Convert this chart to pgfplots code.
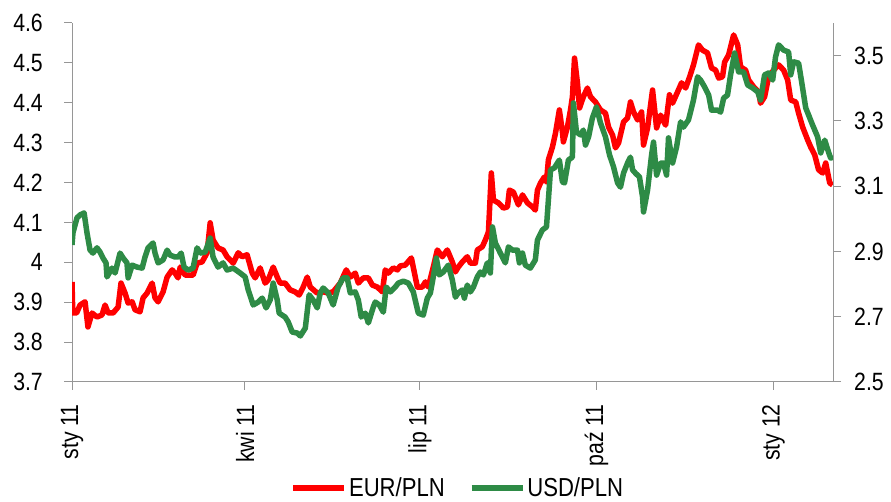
\documentclass[border=0pt]{standalone}
\usepackage{fontspec}
\setmainfont{Liberation Sans}[FakeStretch=0.85]
\usepackage{pgfplots}
\usepackage{pgfplotstable}
\pgfplotsset{compat=1.18}

\definecolor{eurred}{RGB}{255,0,0}
\definecolor{usdgreen}{RGB}{46,139,70}
\definecolor{axgray}{RGB}{150,150,150}

% day since 1 Jan 2011, rate
\pgfplotstableread{
day rate
0 3.951
0.4 3.873
2.4 3.873
4.2 3.893
6.8 3.901
8.3 3.838
10.4 3.873
13.0 3.863
15.6 3.868
17.2 3.893
18.8 3.873
21.4 3.873
24.0 3.888
25.5 3.948
27.6 3.923
29.2 3.898
31.3 3.901
32.8 3.881
35.4 3.876
37.0 3.911
39.1 3.923
41.7 3.948
43.2 3.911
44.8 3.901
47.4 3.926
49.5 3.963
52.1 3.981
53.6 3.973
55.2 3.961
56.3 3.988
58.9 3.968
61.5 3.968
63.0 3.968
65.1 3.998
67.7 4.001
70.3 4.024
71.9 4.099
73.4 4.056
76.0 4.036
78.6 4.031
80.7 4.014
83.9 3.998
86.5 4.024
88.5 4.014
91.1 4.019
93.8 3.973
95.3 3.961
97.9 3.986
100.5 3.948
102.1 3.956
104.7 3.988
106.8 3.963
108.3 3.948
110.9 3.948
113.5 3.931
116.1 3.926
118.2 3.918
120.3 3.938
122.4 3.963
124.0 3.938
127.6 3.923
130.7 3.926
133.3 3.923
135.9 3.926
139.6 3.948
142.7 3.981
144.8 3.963
147.4 3.973
149.0 3.948
151.6 3.961
154.2 3.961
156.3 3.943
158.9 3.938
161.5 3.926
163.0 3.981
164.6 3.973
167.2 3.986
169.3 3.981
170.8 3.991
173.4 3.993
176.6 4.011
179.7 3.938
182.3 3.938
183.9 3.951
185.4 3.938
188.0 3.988
190.1 4.031
192.7 4.014
195.3 4.031
197.9 4.001
199.5 3.976
201.0 3.988
203.1 4.001
205.7 4.014
207.3 3.998
209.9 3.998
210.9 4.031
213.5 4.039
215.1 4.056
216.7 4.076
218.2 4.224
219.3 4.156
221.9 4.149
224.5 4.136
226.6 4.139
227.6 4.181
229.7 4.176
232.3 4.144
234.4 4.169
237.0 4.149
239.6 4.139
241.1 4.131
242.2 4.181
243.8 4.199
245.8 4.214
246.9 4.202
247.9 4.257
250.0 4.289
251.6 4.324
253.6 4.382
255.2 4.327
255.7 4.302
257.8 4.339
259.4 4.382
260.4 4.415
261.5 4.512
263.0 4.450
264.1 4.387
266.1 4.415
268.2 4.437
269.8 4.415
272.4 4.402
275.0 4.382
277.6 4.374
279.2 4.339
281.3 4.319
282.8 4.287
284.4 4.299
287.0 4.352
289.1 4.362
290.6 4.402
292.2 4.377
294.3 4.357
296.4 4.377
297.4 4.294
299.5 4.337
302.1 4.432
304.2 4.337
306.3 4.369
308.9 4.344
310.9 4.420
312.5 4.399
315.1 4.427
317.2 4.450
319.3 4.437
321.4 4.465
323.4 4.495
326.0 4.545
328.1 4.532
330.7 4.525
332.8 4.487
334.9 4.482
336.5 4.462
338.5 4.465
339.6 4.502
341.7 4.520
344.3 4.570
346.4 4.545
347.9 4.490
350.5 4.482
352.1 4.457
354.7 4.440
357.3 4.427
358.3 4.399
360.4 4.415
362.5 4.465
365.1 4.482
367.7 4.495
370.3 4.482
372.4 4.457
374.0 4.407
376.6 4.402
378.1 4.374
380.2 4.339
382.8 4.307
384.4 4.289
386.5 4.269
388.5 4.232
390.6 4.224
392.2 4.249
394.3 4.199
395.8 4.194
}\eurpln

\pgfplotstableread{
day rate
0 2.920
0.5 2.957
2.6 3.003
4.2 3.012
6.3 3.018
7.8 2.957
9.4 2.904
10.9 2.895
13.0 2.911
14.6 2.898
16.1 2.880
17.7 2.865
18.2 2.822
20.8 2.849
22.4 2.834
25.0 2.895
26.6 2.880
28.6 2.865
29.2 2.819
31.3 2.858
33.9 2.852
36.5 2.849
38.0 2.883
39.6 2.911
42.2 2.926
43.2 2.895
44.8 2.865
47.4 2.874
49.5 2.904
51.0 2.889
53.6 2.883
55.2 2.883
56.8 2.895
58.3 2.852
60.4 2.843
63.0 2.849
65.1 2.911
66.7 2.895
69.3 2.898
71.9 2.941
73.4 2.883
76.0 2.852
78.6 2.865
80.7 2.843
83.9 2.849
87.5 2.834
90.1 2.822
91.7 2.782
94.3 2.736
96.9 2.745
99.0 2.757
101.0 2.727
103.1 2.751
104.7 2.803
106.8 2.751
107.8 2.711
110.9 2.699
112.5 2.684
114.6 2.653
117.2 2.650
118.8 2.641
121.4 2.665
123.4 2.767
125.5 2.751
127.6 2.727
129.2 2.773
130.7 2.788
133.3 2.773
135.9 2.736
138.5 2.791
141.1 2.819
143.2 2.819
144.8 2.773
147.4 2.776
149.0 2.751
150.5 2.699
152.6 2.711
154.2 2.681
156.8 2.730
157.8 2.745
159.9 2.736
162.0 2.714
163.5 2.791
165.6 2.776
168.2 2.791
169.8 2.803
172.4 2.809
175.0 2.803
177.6 2.776
180.2 2.711
182.8 2.705
184.9 2.757
186.5 2.773
188.0 2.822
189.6 2.880
191.1 2.828
193.2 2.837
195.8 2.858
197.9 2.813
199.5 2.760
201.0 2.773
203.1 2.782
204.2 2.757
205.7 2.797
207.3 2.776
208.9 2.791
210.9 2.822
212.5 2.837
214.1 2.828
216.1 2.865
217.7 2.834
218.8 2.975
220.3 2.926
222.9 2.895
225.5 2.865
227.1 2.914
229.2 2.904
231.8 2.904
232.8 2.865
234.4 2.895
235.9 2.858
238.5 2.849
241.1 2.874
242.2 2.935
244.8 2.966
246.9 2.975
247.9 3.058
249.0 3.150
251.0 3.156
253.6 3.180
255.2 3.113
256.3 3.110
258.3 3.180
260.4 3.189
260.9 3.355
262.5 3.266
264.6 3.257
266.1 3.272
267.2 3.226
268.8 3.251
270.8 3.309
272.9 3.343
275.0 3.294
277.6 3.251
279.7 3.196
281.8 3.159
283.9 3.110
285.4 3.097
287.0 3.140
289.1 3.171
290.6 3.189
291.7 3.150
293.2 3.140
295.3 3.128
296.9 3.067
297.4 3.021
299.5 3.088
301.6 3.196
302.6 3.235
304.2 3.134
306.3 3.171
307.8 3.171
309.4 3.134
310.4 3.248
312.5 3.171
314.6 3.220
316.7 3.297
318.2 3.281
320.8 3.303
323.4 3.364
325.5 3.435
327.1 3.425
329.2 3.404
331.3 3.379
332.8 3.333
335.9 3.333
337.5 3.327
339.1 3.370
341.1 3.379
342.7 3.441
344.8 3.508
346.9 3.450
349.5 3.450
351.6 3.410
354.2 3.401
356.8 3.389
358.3 3.364
360.4 3.441
362.5 3.447
364.6 3.425
366.1 3.496
367.7 3.533
370.3 3.517
372.9 3.511
374.0 3.441
375.5 3.481
378.1 3.477
379.7 3.419
381.8 3.340
383.3 3.318
385.4 3.287
388.0 3.251
389.6 3.202
391.7 3.241
393.8 3.202
394.8 3.186
395.8 3.189
}\usdpln

\pgfplotsset{
  fx/.style={
    scale only axis,
    width=761pt, height=359pt,
    at={(72pt,120pt)}, anchor=south west,
    xmin=0, xmax=396,
    font=\fontsize{25}{30}\selectfont,
    /pgf/number format/assume math mode=true,
    axis line style={axgray, line width=1pt},
    tick style={axgray, line width=1pt},
    major tick length=8pt,
    tick align=outside,
    line join=round,
  }
}

\begin{document}
\begin{tikzpicture}
\useasboundingbox (0,0) rectangle (891pt,502pt);

\begin{axis}[
    fx,
    axis x line*=bottom,
    axis y line*=left,
    ymin=3.7, ymax=4.6,
    ytick={3.7,3.8,3.9,4.0,4.1,4.2,4.3,4.4,4.5,4.6},
    yticklabels={3.7,3.8,3.9,4,4.1,4.2,4.3,4.4,4.5,4.6},
    yticklabel style={anchor=east, inner sep=0pt, xshift=-21pt},
    xtick={0,90,181,273,365},
    xticklabels={sty 11, kwi 11, lip 11, paź 11, sty 12},
    xticklabel style={rotate=90, anchor=east, inner sep=0pt, xshift=-14pt},
]
\addplot[eurred, line width=5.5pt] table[x=day, y=rate] {\eurpln};
\end{axis}

\begin{axis}[
    fx,
    axis x line=none,
    axis y line*=right,
    ymin=2.5, ymax=3.6,
    ytick={2.5,2.7,2.9,3.1,3.3,3.5},
    yticklabels={2.5,2.7,2.9,3.1,3.3,3.5},
    yticklabel style={anchor=west, inner sep=0pt, xshift=13pt},
    legend style={at={(0.507,-0.295)}, anchor=center, draw=none, fill=none,
        legend columns=2, font=\fontsize{26}{30}\selectfont,
        /tikz/every even column/.append style={column sep=22pt}},
    legend image code/.code={\draw[#1] (0pt,0pt) -- (51pt,0pt);},
]
\addlegendimage{eurred, line width=5.5pt}
\addlegendentry{EUR/PLN}
\addplot[usdgreen, line width=5.5pt] table[x=day, y=rate] {\usdpln};
\addlegendentry{USD/PLN}
\end{axis}
\end{tikzpicture}
\end{document}
